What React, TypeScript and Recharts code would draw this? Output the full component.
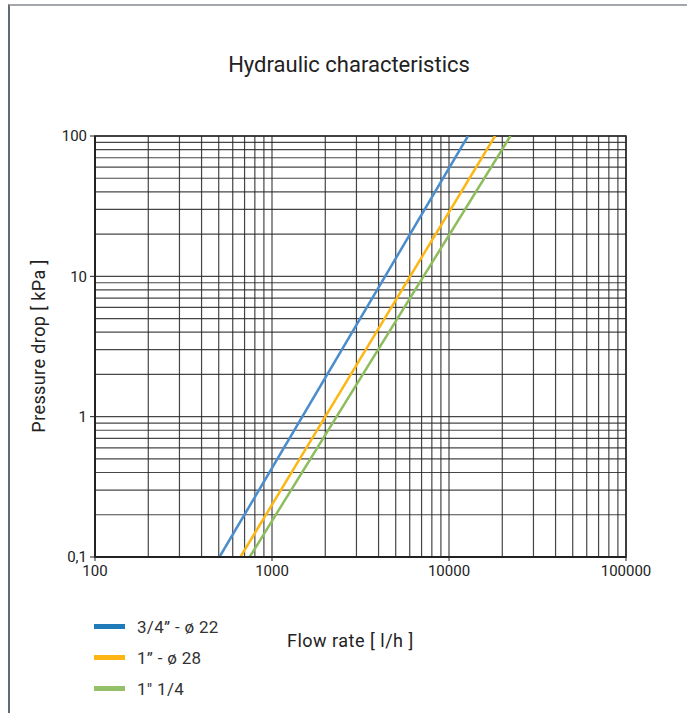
import React from 'react';
import {
  LineChart, Line, XAxis, YAxis, ReferenceLine, ReferenceArea,
} from 'recharts';

// flow rate [l/h] vs pressure drop [kPa], straight lines on log-log
const blueData = [{ q: 505, dp: 0.1 }, { q: 12800, dp: 100 }];
const orangeData = [{ q: 663, dp: 0.1 }, { q: 18200, dp: 100 }];
const greenData = [{ q: 748, dp: 0.1 }, { q: 22250, dp: 100 }];

const series = [
  { name: '3/4” - ø 22', data: blueData, color: '#4a8dcd', legend: '#1f7ab8' },
  { name: '1” - ø 28', data: orangeData, color: '#fdb714', legend: '#fdb515' },
  { name: '1" 1/4', data: greenData, color: '#8dbd5c', legend: '#93c068' },
];

const xTicks = [100, 1000, 10000, 100000];
const yTicks = [0.1, 1, 10, 100];
const steps = [1, 2, 3, 4, 5, 6, 7, 8, 9];

const xGrid = [100, 1000, 10000].flatMap((d) => steps.map((s) => s * d)).concat([100000]);
const yGrid = [0.1, 1, 10].flatMap((d) => steps.map((s) => +(s * d).toFixed(2))).concat([100]);

const FONT = 'Roboto, "DejaVu Sans", sans-serif';
const TICK = { fontFamily: FONT, fontSize: 15, fill: '#222' };
const GRID = '#262626';

export default function App() {
  return (
    <div style={{ position: 'absolute', left: 0, top: 0, width: 687, height: 713, background: '#fff', fontFamily: FONT }}>
      {/* frame */}
      <div style={{
        position: 'absolute', left: 8, top: 4, right: 0, bottom: 0,
        borderLeft: '2px solid #646a71', borderTop: '2px solid #a3a7ab',
      }} />

      <div style={{
        position: 'absolute', left: 0, width: 698, top: 52, textAlign: 'center',
        fontSize: 22, color: '#222',
      }}>Hydraulic characteristics</div>

      <div style={{
        position: 'absolute', left: 38, top: 346, transform: 'translate(-50%, -50%) rotate(-90deg)',
        whiteSpace: 'nowrap', fontSize: 18, letterSpacing: 0.4, color: '#222',
      }}>Pressure drop [ kPa ]</div>

      <div style={{ position: 'absolute', left: 0, top: 0 }}>
        <LineChart width={687} height={713} margin={{ top: 136, right: 61, bottom: 126, left: 35 }}>
          <XAxis dataKey="q" type="number" scale="log" domain={[100, 100000]}
            ticks={xTicks} allowDataOverflow height={30}
            tick={TICK} tickSize={4} tickMargin={4}
            axisLine={{ stroke: '#222', strokeWidth: 2 }} tickLine={{ stroke: '#222' }} />
          <YAxis dataKey="dp" type="number" scale="log" domain={[0.1, 100]}
            ticks={yTicks} allowDataOverflow width={60}
            tick={TICK} tickSize={5} tickMargin={3}
            tickFormatter={(v: number) => String(v).replace('.', ',')}
            axisLine={{ stroke: '#222', strokeWidth: 2 }} tickLine={{ stroke: '#222' }} />
          {xGrid.map((v) => (
            <ReferenceLine key={`x${v}`} x={v} stroke={GRID} strokeWidth={1.2} strokeOpacity={0.85} />
          ))}
          {yGrid.map((v) => (
            <ReferenceLine key={`y${v}`} y={v} stroke={GRID} strokeWidth={1.2} strokeOpacity={0.85} />
          ))}
          <ReferenceArea x1={100} x2={100000} y1={0.1} y2={100}
            fill="none" stroke="#222" strokeWidth={1.5} ifOverflow="visible" />
          {series.map((s) => (
            <Line key={s.name} data={s.data} dataKey="dp" name={s.name} type="linear"
              stroke={s.color} strokeWidth={2.5} dot={false} isAnimationActive={false} />
          ))}
        </LineChart>
      </div>

      <div style={{
        position: 'absolute', left: 287, top: 630, fontSize: 18, letterSpacing: 0.5, color: '#222',
      }}>Flow rate [ l/h ]</div>

      {/* legend */}
      <div style={{ position: 'absolute', left: 94, top: 611 }}>
        {series.map((s) => (
          <div key={s.name} style={{ display: 'flex', alignItems: 'center', height: 31 }}>
            <div style={{ width: 31, height: 5, background: s.legend, marginRight: 12 }} />
            <span style={{ fontSize: 17, color: '#333', letterSpacing: 0.3 }}>{s.name}</span>
          </div>
        ))}
      </div>
    </div>
  );
}
